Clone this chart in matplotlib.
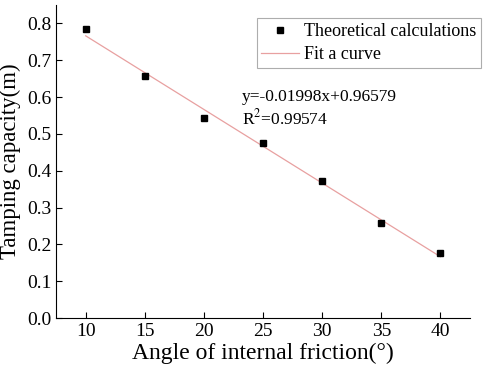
import matplotlib
matplotlib.use('Agg')
import matplotlib.pyplot as plt
import numpy as np

plt.rcParams['font.family'] = 'Liberation Serif'
plt.rcParams['mathtext.fontset'] = 'stix'

# data
angle = [10, 15, 20, 25, 30, 35, 40]
capacity = [0.785, 0.658, 0.542, 0.474, 0.372, 0.257, 0.176]
slope = -0.01998
intercept = 0.96579
r2 = 0.99574

fig = plt.figure(figsize=(4.84, 3.76), dpi=100)
ax = fig.add_axes([0.116, 0.154, 0.855, 0.833])

ax.plot(angle, capacity, 's', color='black', markersize=5, label='Theoretical calculations', zorder=3)
xf = np.array([angle[0], angle[-1]])
ax.plot(xf, slope * xf + intercept, '-', color='#e8a0a0', linewidth=0.9, label='Fit a curve')

ax.text(23.2, 0.59, 'y=-0.01998x+0.96579', fontsize=12.5)
ax.text(23.2, 0.527, 'R$^2$=0.99574', fontsize=12.5)

ax.set_xlim(7.5, 42.5)
ax.set_ylim(0, 0.85)
ax.set_xticks(angle)
ax.set_yticks(np.arange(0, 0.81, 0.1))
ax.set_yticklabels([f'{v:.1f}' for v in np.arange(0, 0.81, 0.1)])
ax.tick_params(direction='in', labelsize=14, length=4)
ax.spines['top'].set_visible(False)
ax.spines['right'].set_visible(False)
ax.set_xlabel('Angle of internal friction(°)', fontsize=17, labelpad=2)
ax.set_ylabel('Tamping capacity(m)', fontsize=16.5, labelpad=4)

leg = ax.legend(loc='upper right', bbox_to_anchor=(1.027, 0.957), fontsize=13, fancybox=False,
                handlelength=2.1, handletextpad=0.3, borderpad=0.25, borderaxespad=0,
                labelspacing=0.35)
leg.get_frame().set_edgecolor('#999999')
leg.get_frame().set_linewidth(0.8)

fig.savefig('out.png', dpi=100)
